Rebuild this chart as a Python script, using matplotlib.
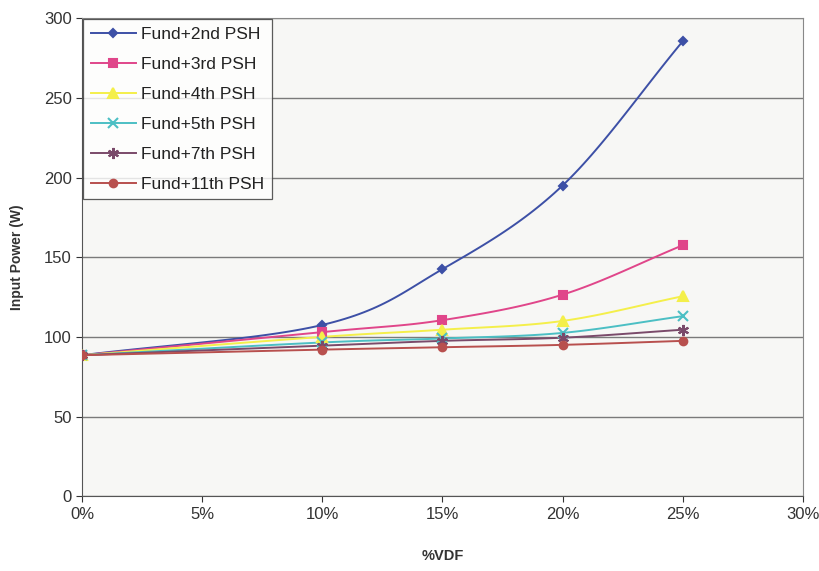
import numpy as np
import matplotlib
matplotlib.use("Agg")
import matplotlib.pyplot as plt
from matplotlib.ticker import FuncFormatter, MultipleLocator

plt.rcParams['font.family'] = ['Liberation Sans', 'DejaVu Sans']

# %VDF values (fraction) and input power for each harmonic case
vdf = [0.0, 0.10, 0.15, 0.20, 0.25]
p_2nd = [88.5, 107.5, 142.5, 195.0, 285.5]
p_3rd = [88.5, 103.0, 110.5, 126.5, 157.5]
p_4th = [88.5, 100.0, 104.5, 110.0, 125.5]
p_5th = [88.5, 96.5, 99.0, 102.5, 113.0]
p_7th = [88.5, 94.5, 97.5, 99.5, 104.5]
p_11th = [88.5, 92.0, 93.5, 95.0, 97.5]

labels = ['Fund+2nd PSH', 'Fund+3rd PSH', 'Fund+4th PSH',
          'Fund+5th PSH', 'Fund+7th PSH', 'Fund+11th PSH']
series = [p_2nd, p_3rd, p_4th, p_5th, p_7th, p_11th]
colors = ['#3d50a6', '#e0468a', '#f4ef4a', '#4cbfc4', '#7a4a6a', '#b8504e']
markers = ['D', 's', '^', 'x', (6, 2, 0), 'o']
msizes = [4.5, 5.5, 6.5, 7, 8, 5.5]


def smooth(x, y, n=30):
    # Catmull-Rom style curve through the points (like a smoothed line chart)
    x = np.asarray(x, float)
    y = np.asarray(y, float)
    px = np.concatenate([[2 * x[0] - x[1]], x, [2 * x[-1] - x[-2]]])
    py = np.concatenate([[2 * y[0] - y[1]], y, [2 * y[-1] - y[-2]]])
    xs, ys = [], []
    t = np.linspace(0, 1, n)
    for i in range(1, len(px) - 2):
        for arr, out in ((px, xs), (py, ys)):
            p0, p1, p2, p3 = arr[i - 1], arr[i], arr[i + 1], arr[i + 2]
            m1 = (p2 - p0) / 6.0
            m2 = (p3 - p1) / 6.0
            b = ((1 - t) ** 3 * p1 + 3 * (1 - t) ** 2 * t * (p1 + m1)
                 + 3 * (1 - t) * t ** 2 * (p2 - m2) + t ** 3 * p2)
            out.extend(b)
    return np.array(xs), np.array(ys)


fig = plt.figure(figsize=(8.2, 5.71), dpi=100)
ax = fig.add_axes([0.1, 0.131, 0.879, 0.837])
ax.set_facecolor('#f7f7f5')

for y, c, m, ms, lab in zip(series, colors, markers, msizes, labels):
    sx, sy = smooth(vdf, y)
    ax.plot(sx, sy, color=c, lw=1.4, zorder=3)
    ax.plot(vdf, y, ls='none', marker=m, color=c, ms=ms, mew=1.5, zorder=4)
    ax.plot([], [], color=c, lw=1.4, marker=m, ms=ms, mew=1.5, label=lab)

ax.set_xlim(0, 0.30)
ax.set_ylim(0, 300)
ax.xaxis.set_major_locator(MultipleLocator(0.05))
ax.yaxis.set_major_locator(MultipleLocator(50))
ax.xaxis.set_major_formatter(FuncFormatter(lambda v, p: f'{v * 100:.0f}%'))
ax.grid(axis='y', color='#7a7a7a', lw=1.0)
ax.set_axisbelow(True)
for s in ax.spines.values():
    s.set_color('#888888')
ax.spines['left'].set_color('#555555')
ax.spines['bottom'].set_color('#555555')
ax.tick_params(labelsize=12, colors='#333333', length=4, direction='out')
ax.set_xlabel('%VDF', fontsize=10.5, fontweight='bold', color='#333333', labelpad=20)
ax.set_ylabel('Input Power (W)', fontsize=10, fontweight='bold', color='#333333', labelpad=14)

leg = ax.legend(loc='upper left', bbox_to_anchor=(0.0, 1.0), fontsize=12.5,
                frameon=True, fancybox=False, borderaxespad=0.05,
                handlelength=2.6, labelspacing=0.85, borderpad=0.45, handletextpad=0.3)
leg.get_frame().set_edgecolor('#333333')
leg.get_frame().set_facecolor('#ffffff')
leg.get_frame().set_linewidth(0.9)
for t in leg.get_texts():
    t.set_color('#222222')

fig.savefig('out.png', dpi=100)
